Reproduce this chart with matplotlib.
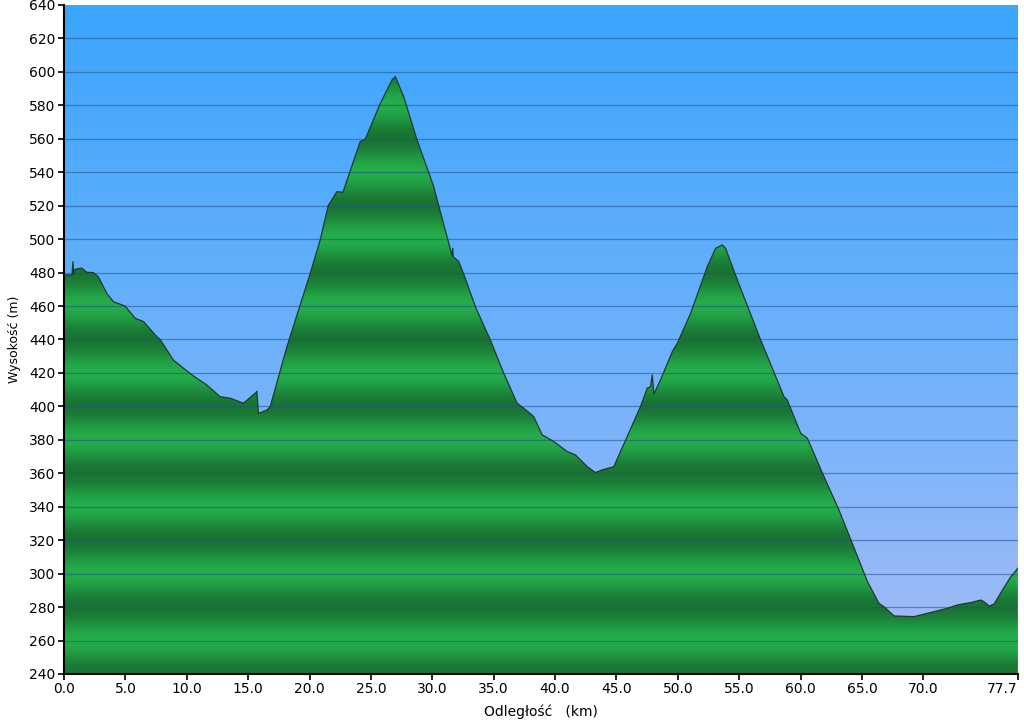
import numpy as np
import matplotlib
matplotlib.use("Agg")
import matplotlib.pyplot as plt
from matplotlib.colors import LinearSegmentedColormap

# elevation profile
km = [0.00, 0.65, 0.73, 0.78, 0.90, 1.44, 1.85, 2.39, 2.80, 3.48, 4.02, 4.97,
      5.79, 6.47, 7.56, 7.83, 8.91, 9.73, 10.54, 11.63, 12.72, 13.53, 14.62,
      15.57, 15.71, 15.84, 16.53, 16.80, 18.16, 20.06, 20.87, 21.52, 22.23,
      22.72, 24.13, 24.54, 25.76, 26.72, 26.99, 27.66, 28.76, 30.11, 31.25,
      31.62, 31.66, 31.70, 32.15, 32.69, 33.51, 34.73, 35.82, 36.91, 37.45,
      38.26, 38.95, 39.89, 40.99, 41.66, 42.62, 43.29, 43.84, 44.79, 45.88,
      46.96, 47.51, 47.78, 47.92, 48.05, 48.59, 49.55, 49.96, 51.04, 52.40,
      53.08, 53.62, 53.89, 54.85, 56.75, 58.65, 58.92, 60.01, 60.55, 61.91,
      63.13, 64.22, 65.45, 66.39, 66.80, 67.62, 69.25, 70.34, 71.97, 72.78,
      73.87, 74.68, 74.95, 75.36, 75.77, 76.45, 77.13, 77.70]
elev = [478.6, 478.6, 486.5, 479.0, 482.0, 482.7, 480.2, 480.0, 477.5, 467.6,
        462.6, 460.0, 452.7, 450.7, 441.7, 440.0, 427.7, 422.8, 418.2, 412.8,
        405.8, 404.9, 401.9, 407.8, 409.0, 395.8, 397.8, 399.9, 435.7, 479.6,
        499.5, 520.0, 528.4, 528.0, 558.3, 559.8, 581.0, 595.2, 597.2, 585.3,
        559.3, 531.5, 500.0, 490.0, 494.5, 489.5, 486.6, 476.6, 459.6, 439.7,
        419.8, 401.9, 398.9, 393.9, 383.0, 379.0, 373.0, 371.0, 364.0, 360.4,
        362.0, 364.0, 382.0, 399.9, 410.9, 411.8, 418.8, 407.4, 415.8, 432.7,
        437.7, 455.6, 483.5, 494.5, 496.5, 494.5, 475.6, 439.7, 405.8, 403.8,
        383.9, 381.0, 358.0, 338.0, 318.0, 295.2, 282.2, 280.2, 274.7, 274.3,
        276.3, 279.3, 281.3, 282.7, 284.2, 283.2, 280.6, 281.9, 290.2, 298.2,
        303.2]

x_ticks = [0, 5, 10, 15, 20, 25, 30, 35, 40, 45, 50, 55, 60, 65, 70, 77.7]
x_labels = ["0.0", "5.0", "10.0", "15.0", "20.0", "25.0", "30.0", "35.0",
            "40.0", "45.0", "50.0", "55.0", "60.0", "65.0", "70.0", "77.7"]
y_ticks = list(range(240, 641, 20))

x_max = 77.7
y_min, y_max = 240, 640

fig = plt.figure(figsize=(10.24, 7.21), dpi=100)
ax = fig.add_axes([0.0625, 0.0652, 0.9315, 0.9279])

# sky gradient background
sky = LinearSegmentedColormap.from_list("sky", ["#a6bcf7", "#6cb1fb", "#3aa5fd"])
grad = np.linspace(0, 1, 256).reshape(-1, 1)
ax.imshow(grad, cmap=sky, origin="lower", aspect="auto",
          extent=[0, x_max, y_min, y_max], zorder=0)

# banded green fill clipped to the profile
yy = np.linspace(y_min, y_max, 1600)
shade = 0.5 * (1 - np.cos(2 * np.pi * (yy - y_min) / 40.0))
dark = np.array([0x19, 0x74, 0x33]) / 255.0
light = np.array([0x24, 0xad, 0x4b]) / 255.0
rgb = dark[None, :] + shade[:, None] * (light - dark)[None, :]
rgb = np.repeat(rgb[:, None, :], 2, axis=1)
poly = ax.fill_between(km, elev, y_min, facecolor="none", edgecolor="none")
im = ax.imshow(rgb, origin="lower", aspect="auto",
               extent=[0, x_max, y_min, y_max], zorder=1)
im.set_clip_path(poly.get_paths()[0], transform=ax.transData)
ax.plot(km, elev, color="#1d3b2b", linewidth=0.9, zorder=3)

# grid lines
for y in y_ticks[1:-1]:
    ax.axhline(y, color="#1f4f8a", linewidth=0.9, alpha=0.55, zorder=2)

ax.set_xlim(0, x_max)
ax.set_ylim(y_min, y_max)
ax.set_xticks(x_ticks)
ax.set_xticklabels(x_labels)
ax.set_yticks(y_ticks)
ax.tick_params(direction="out", length=4, width=1.2, labelsize=10, pad=2)
ax.get_xticklabels()[-1].set_horizontalalignment("right")
ax.spines["top"].set_visible(False)
ax.spines["right"].set_visible(False)
ax.spines["left"].set_linewidth(1.5)
ax.spines["bottom"].set_linewidth(1.5)
ax.set_xlabel("Odległość   (km)", fontsize=10, labelpad=6)
ax.set_ylabel("Wysokość (m)", fontsize=9, labelpad=6)

fig.savefig("out.png", dpi=100)
